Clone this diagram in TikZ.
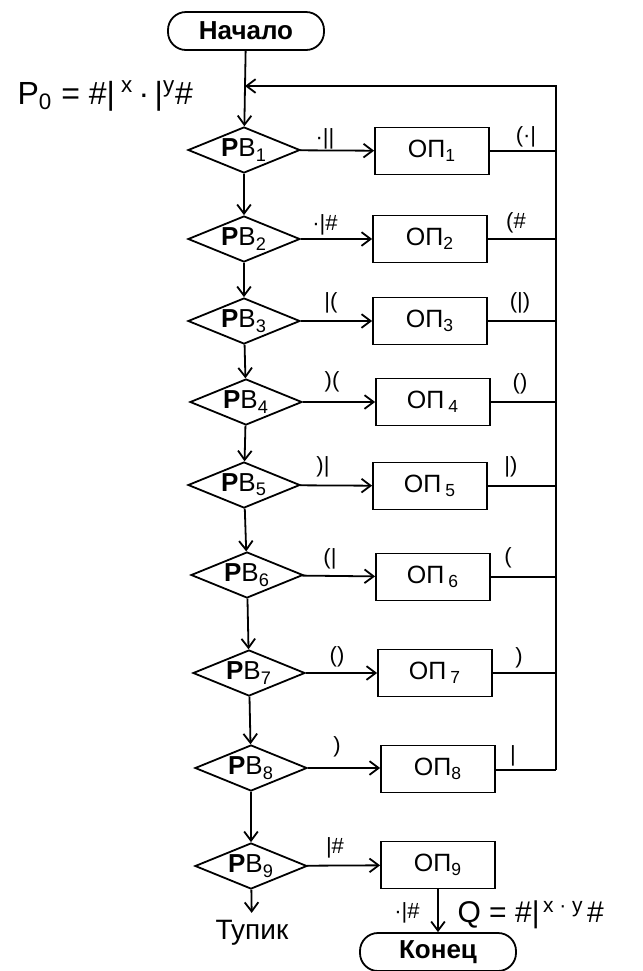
\documentclass[tikz,border=0pt]{standalone}
\usepackage{fontspec}
\setmainfont{Liberation Sans}
\usetikzlibrary{shapes.geometric, arrows.meta, positioning}

\begin{document}
\begin{tikzpicture}[
  x=0.5pt, y=-0.5pt,
  line width=0.9pt,
  every node/.style={font=\fontsize{12}{14}\selectfont},
  term/.style={draw, rectangle, rounded corners=9pt, minimum width=78pt, minimum height=19pt, inner sep=1pt, font=\fontsize{13}{15}\selectfont\bfseries},
  cond/.style={draw, diamond, aspect=2.4, minimum width=56pt, minimum height=23pt, inner sep=0pt, font=\fontsize{13}{15}\selectfont},
  box/.style={draw, rectangle, minimum width=57pt, minimum height=23.5pt, inner sep=1pt, font=\fontsize{12.5}{15}\selectfont},
  lbl/.style={font=\fontsize{11}{13}\selectfont, inner sep=0pt},
  arrow/.style={-{Straight Barb[length=1.6mm, width=2.4mm]}}
]
\useasboundingbox (0,0) rectangle (643,971);

% Start and entry
\node[term] (start) at (246,31) {Начало};
\coordinate (join) at (245,86);
\node[font=\fontsize{16}{18}\selectfont, anchor=west] (p0) at (10,96) {P\textsubscript{0} = \#|\textsuperscript{ x}\,·\,|\textsuperscript{y}\#};

% Conditions
\node[cond] (rv1) at (244,150) {{\bfseries Р}В\textsubscript{1}};
\node[cond] (rv2) at (244,239) {{\bfseries Р}В\textsubscript{2}};
\node[cond] (rv3) at (244,321) {{\bfseries Р}В\textsubscript{3}};
\node[cond] (rv4) at (246,402) {{\bfseries Р}В\textsubscript{4}};
\node[cond] (rv5) at (244,485) {{\bfseries Р}В\textsubscript{5}};
\node[cond] (rv6) at (247,575) {{\bfseries Р}В\textsubscript{6}};
\node[cond] (rv7) at (249,673) {{\bfseries Р}В\textsubscript{7}};
\node[cond] (rv8) at (251,768) {{\bfseries Р}В\textsubscript{8}};
\node[cond] (rv9) at (251,866) {{\bfseries Р}В\textsubscript{9}};

% Operations
\node[box] (op1) at (432,151) {ОП\textsubscript{1}};
\node[box] (op2) at (430,239) {ОП\textsubscript{2}};
\node[box] (op3) at (430,321) {ОП\textsubscript{3}};
\node[box] (op4) at (433,402) {ОП\,\textsubscript{4}};
\node[box] (op5) at (430,486) {ОП\,\textsubscript{5}};
\node[box] (op6) at (433,577) {ОП\,\textsubscript{6}};
\node[box] (op7) at (435,673) {ОП\,\textsubscript{7}};
\node[box] (op8) at (438,769) {ОП\textsubscript{8}};
\node[box] (op9) at (438,865) {ОП\textsubscript{9}};

% Exits
\node[font=\fontsize{14}{16}\selectfont] (dead) at (252,933) {Тупик};
\node[term] (stop) at (438,952) {Конец};

% Return line
\coordinate (rtop) at (556,86);
\coordinate (rbot) at (556,770);

% Main flow
\draw (start) -- (join);
\draw[arrow] (join) -- (rv1);
\draw[arrow] (rv1) -- (rv2);
\draw[arrow] (rv2) -- (rv3);
\draw[arrow] (rv3) -- (rv4);
\draw[arrow] (rv4) -- (rv5);
\draw[arrow] (rv5) -- (rv6);
\draw[arrow] (rv6) -- (rv7);
\draw[arrow] (rv7) -- (rv8);
\draw[arrow] (rv8) -- (rv9);
\draw[arrow] (rv9) -- (dead);

% Branches
\draw[arrow] (rv1) -- (op1);
\draw[arrow] (rv2) -- (op2);
\draw[arrow] (rv3) -- (op3);
\draw[arrow] (rv4) -- (op4);
\draw[arrow] (rv5) -- (op5);
\draw[arrow] (rv6) -- (op6);
\draw[arrow] (rv7) -- (op7);
\draw[arrow] (rv8.east) -- (op8.west |- rv8.east);
\draw[arrow] (rv9) -- (op9);
\draw[arrow] (op9) -- (stop);

% Back to the start
\draw (op1) -- (op1 -| rtop);
\draw (op2) -- (op2 -| rtop);
\draw (op3) -- (op3 -| rtop);
\draw (op4) -- (op4 -| rtop);
\draw (op5) -- (op5 -| rtop);
\draw (op6) -- (op6 -| rtop);
\draw (op7) -- (op7 -| rtop);
\draw (op8.east |- rbot) -- (rbot);
\draw[arrow] (rbot) -- (rtop) -- (join);

% Labels
\node[lbl] (a1) at (325,139) {·||};
\node[lbl] (b1) at (526,137) {(·|};
\node[lbl] (a2) at (325,225) {·|\#};
\node[lbl] (b2) at (516,223) {(\#};
\node[lbl] (a3) at (331,303) {|(};
\node[lbl] (b3) at (520,303) {(|)};
\node[lbl] (a4) at (332,382) {)(};
\node[lbl] (b4) at (520,384) {()};
\node[lbl] (a5) at (323,467) {)|};
\node[lbl] (b5) at (511,467) {|)};
\node[lbl] (a6) at (330,559) {(|};
\node[lbl] (b6) at (508,558) {(};
\node[lbl] (a7) at (337,657) {()};
\node[lbl] (b7) at (519,658) {)};
\node[lbl] (a8) at (337,747) {)};
\node[lbl] (b8) at (513,756) {|};
\node[lbl] (a9) at (335,848) {|\#};
\node[lbl] (c9) at (407,913) {·|\#};
\node[font=\fontsize{15}{17}\selectfont, anchor=west] (q) at (450,915) {Q = \#|\textsuperscript{\,x · y\,}\#};

\end{tikzpicture}
\end{document}
